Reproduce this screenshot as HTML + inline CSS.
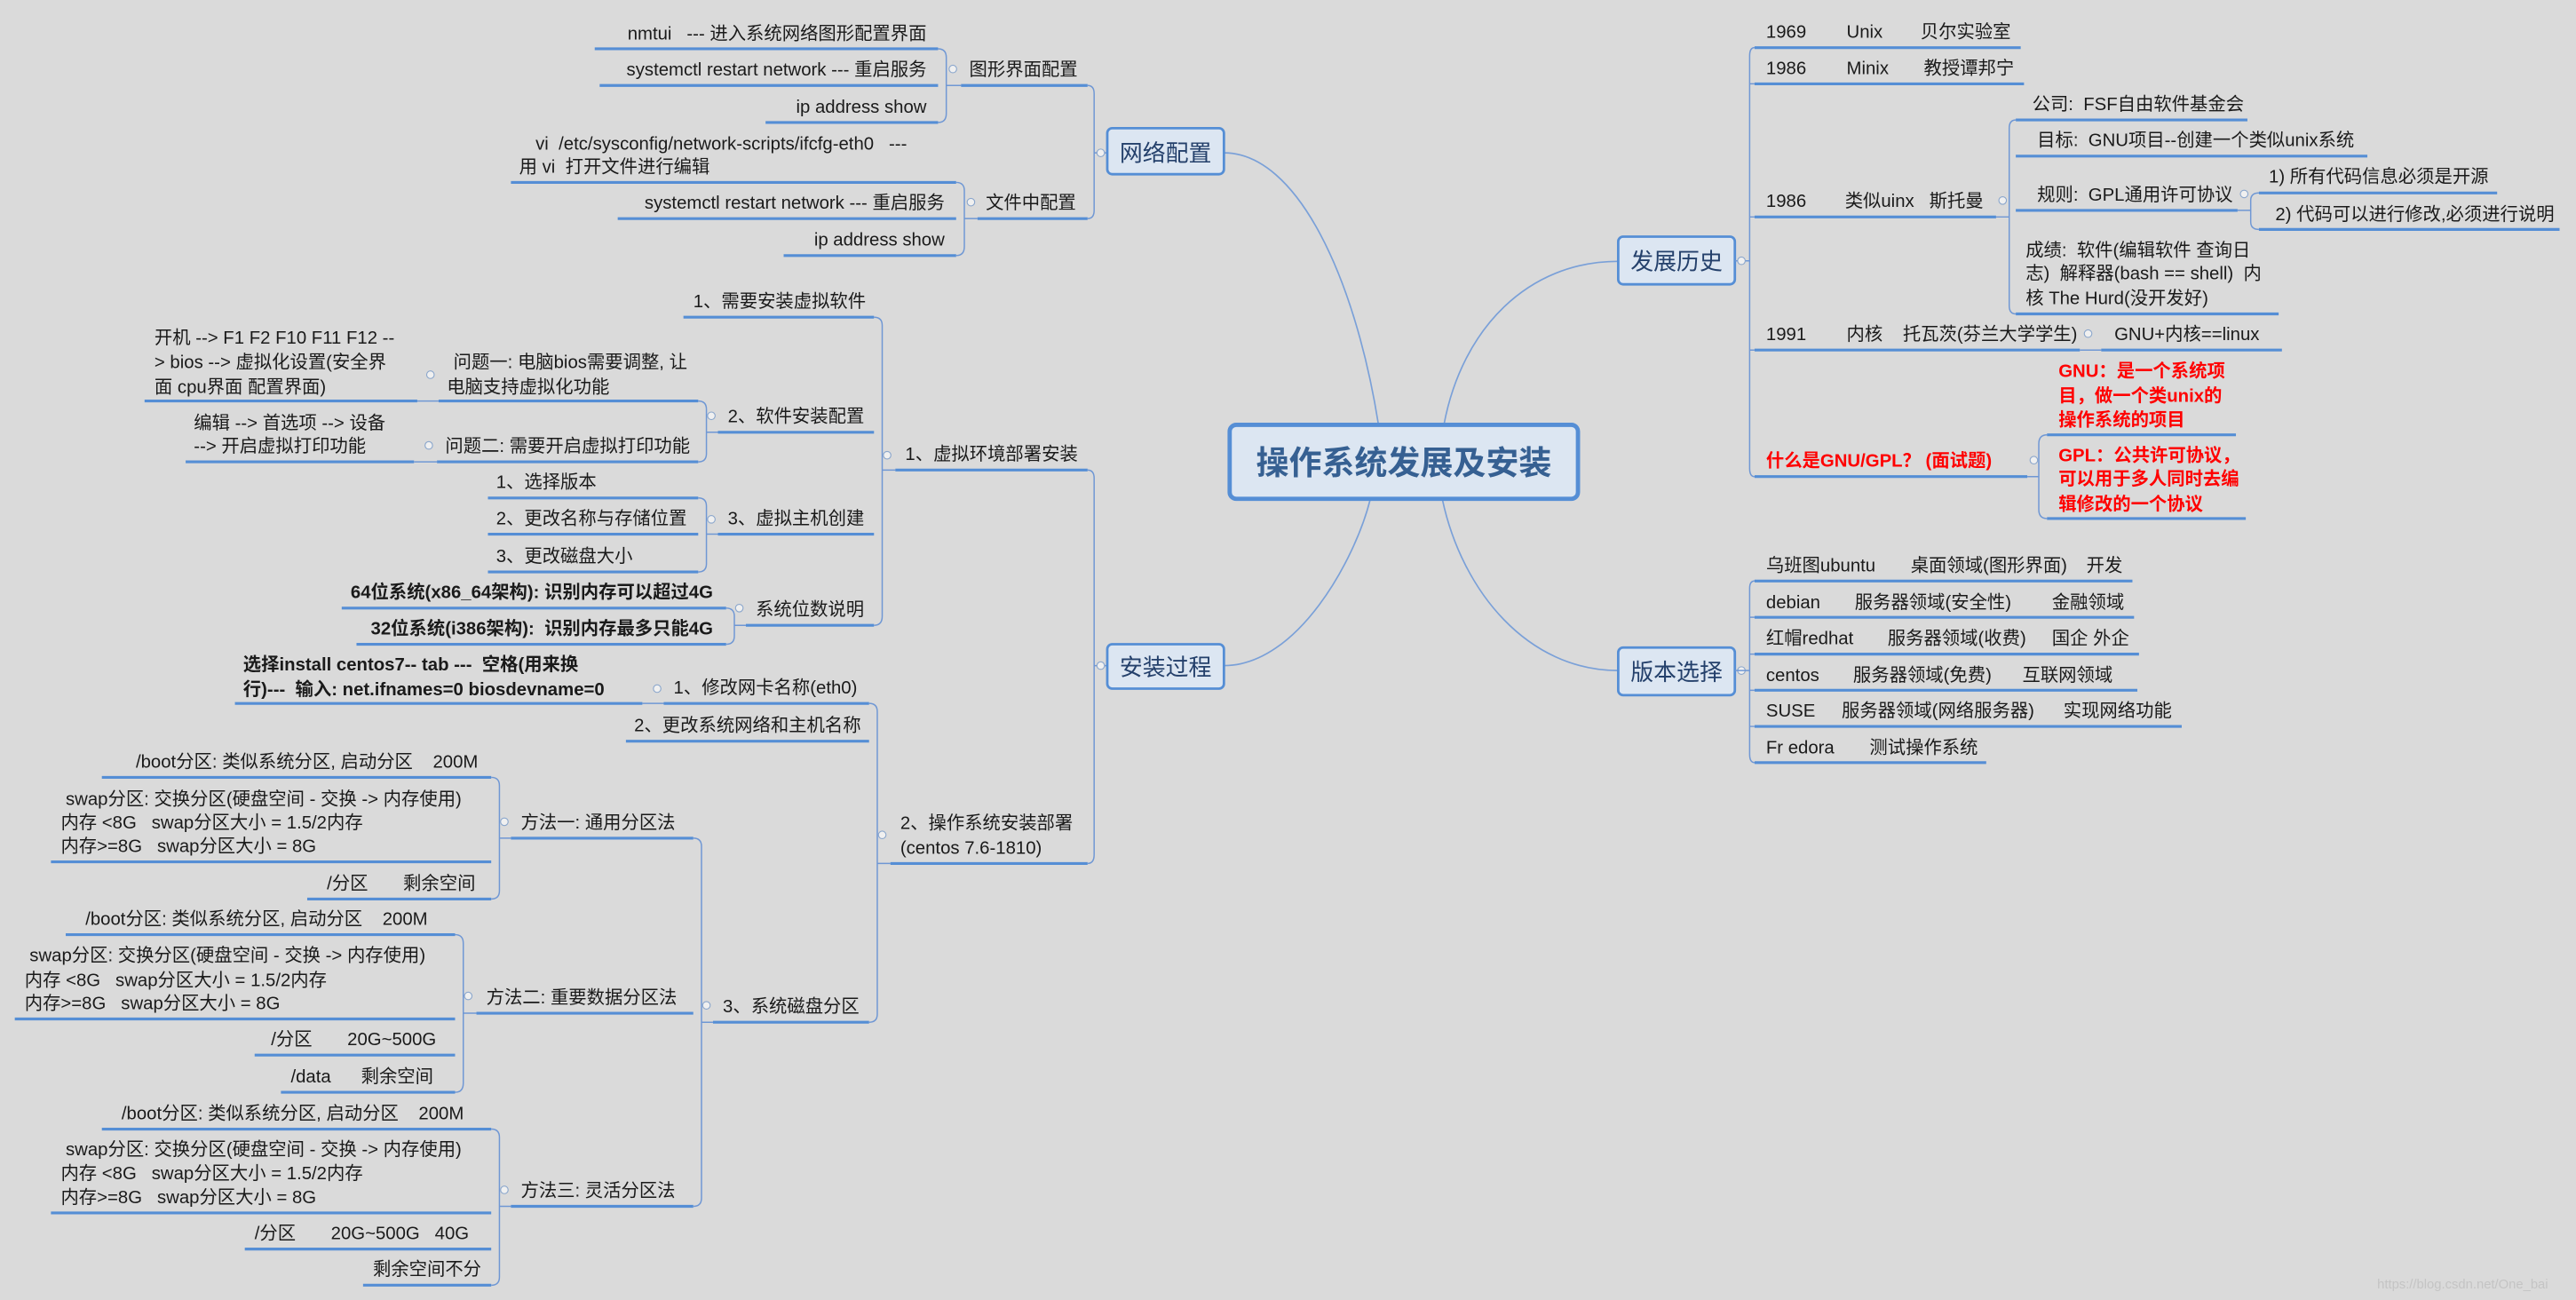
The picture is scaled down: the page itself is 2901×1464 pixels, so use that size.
<!DOCTYPE html>
<html><head><meta charset="utf-8"><style>
html,body{margin:0;padding:0;background:#dadada;width:2901px;height:1464px;overflow:hidden}
svg{display:block}
text{font-family:"Liberation Sans","Noto Sans CJK SC",sans-serif;font-size:11px;fill:#1a1a1a;white-space:pre}
.e{text-anchor:end}
.b{font-weight:bold}
.r{fill:#ff0000;font-weight:bold}
.u{stroke:#558ed5;stroke-width:1.7;fill:none}
.c{stroke:#6f97d4;stroke-width:0.8;fill:none}
.k{stroke:#7aa0d8;stroke-width:0.9;fill:none}
.o{fill:#f0f0f0;stroke:#8aa6cc;stroke-width:0.6}
.box{fill:#dce6f2;stroke:#558ed5;stroke-width:1.5}
.bt{font-size:14px;fill:#24406b;text-anchor:middle}
</style></head><body>
<svg width="2901" height="1464" viewBox="0 0 1568 791" preserveAspectRatio="none" xml:space="preserve">
<rect width="1568" height="791" fill="#dadada"/>
<path class="k" d="M745,93 C790,93 825,170 839,258"/>
<path class="k" d="M745,405 C790,405 825,340 834,304"/>
<path class="k" d="M985,159 C930,159 890,200 879,258"/>
<path class="k" d="M985,408 C930,408 890,360 878,304"/>

<text class="e" x="564" y="24">nmtui   --- 进入系统网络图形配置界面</text>
<line class="u" x1="362" y1="29.7" x2="571" y2="29.7"/>
<text class="e" x="564" y="46">systemctl restart network --- 重启服务</text>
<line class="u" x1="365" y1="52" x2="571" y2="52"/>
<text class="e" x="564" y="68.5">ip address show</text>
<line class="u" x1="466" y1="74.5" x2="571" y2="74.5"/>
<path class="c" d="M571,29.7 Q576,29.7 576,35 L576,69 Q576,74.5 571,74.5 M576,52 H585"/>
<circle class="o" cx="580" cy="42" r="2.3"/>
<text x="590" y="46">图形界面配置</text>
<line class="u" x1="585" y1="52" x2="662" y2="52"/>

<text x="326" y="91">vi  /etc/sysconfig/network-scripts/ifcfg-eth0   ---</text>
<text x="316" y="105">用 vi  打开文件进行编辑</text>
<line class="u" x1="311" y1="111" x2="582" y2="111"/>
<text class="e" x="575" y="127">systemctl restart network --- 重启服务</text>
<line class="u" x1="376" y1="133" x2="582" y2="133"/>
<text class="e" x="575" y="149.5">ip address show</text>
<line class="u" x1="477" y1="155.5" x2="582" y2="155.5"/>
<path class="c" d="M582,111 Q587,111 587,116 L587,150 Q587,155.5 582,155.5 M587,133 H595"/>
<circle class="o" cx="591" cy="123" r="2.3"/>
<text x="600" y="127">文件中配置</text>
<line class="u" x1="595" y1="133" x2="662" y2="133"/>
<path class="c" d="M662,52 Q666,52 666,57 L666,128 Q666,133 662,133 M666,93 H674"/>
<circle class="o" cx="670" cy="93" r="2.3"/>
<rect class="box" x="674" y="78" width="71" height="28" rx="3"/>
<text class="bt" x="709.5" y="98">网络配置</text>

<text x="422" y="187">1、需要安装虚拟软件</text>
<line class="u" x1="416" y1="193" x2="532" y2="193"/>
<text x="94" y="209">开机 --&gt; F1 F2 F10 F11 F12 --</text>
<text x="94" y="224">&gt; bios --&gt; 虚拟化设置(安全界</text>
<text x="94" y="239">面 cpu界面 配置界面)</text>
<line class="u" x1="88" y1="244" x2="254" y2="244"/>
<line class="c" x1="254" y1="244" x2="267" y2="244"/>
<text x="276" y="224">问题一: 电脑bios需要调整, 让</text>
<text x="272" y="239">电脑支持虚拟化功能</text>
<line class="u" x1="267" y1="244" x2="425" y2="244"/>
<circle class="o" cx="262" cy="228" r="2.3"/>
<text x="118" y="261">编辑 --&gt; 首选项 --&gt; 设备</text>
<text x="118" y="275">--&gt; 开启虚拟打印功能</text>
<line class="u" x1="113" y1="281" x2="252" y2="281"/>
<line class="c" x1="252" y1="281" x2="266" y2="281"/>
<text x="271" y="275">问题二: 需要开启虚拟打印功能</text>
<line class="u" x1="266" y1="281" x2="425" y2="281"/>
<circle class="o" cx="261" cy="271" r="2.3"/>
<path class="c" d="M425,244 Q430,244 430,249 L430,276 Q430,281 425,281 M430,263 H437"/>
<circle class="o" cx="433" cy="253" r="2.3"/>
<text x="443" y="257">2、软件安装配置</text>
<line class="u" x1="437" y1="263" x2="532" y2="263"/>

<text x="302" y="297">1、选择版本</text>
<line class="u" x1="297" y1="303" x2="425" y2="303"/>
<text x="302" y="319">2、更改名称与存储位置</text>
<line class="u" x1="297" y1="325" x2="425" y2="325"/>
<text x="302" y="342">3、更改磁盘大小</text>
<line class="u" x1="297" y1="348" x2="425" y2="348"/>
<path class="c" d="M425,303 Q430,303 430,308 L430,343 Q430,348 425,348 M430,325 H437"/>
<circle class="o" cx="433" cy="316" r="2.3"/>
<text x="443" y="319">3、虚拟主机创建</text>
<line class="u" x1="437" y1="325" x2="532" y2="325"/>

<text class="e b" x="434" y="364">64位系统(x86_64架构): 识别内存可以超过4G</text>
<line class="u" x1="208" y1="370" x2="442" y2="370"/>
<text class="e b" x="434" y="386">32位系统(i386架构):  识别内存最多只能4G</text>
<line class="u" x1="217" y1="392" x2="442" y2="392"/>
<path class="c" d="M442,370 Q447,370 447,375 L447,387 Q447,392 442,392 M447,380.5 H454"/>
<circle class="o" cx="450" cy="370" r="2.3"/>
<text x="460" y="374.5">系统位数说明</text>
<line class="u" x1="454" y1="380.5" x2="532" y2="380.5"/>
<path class="c" d="M532,193 Q537,193 537,198 L537,375 Q537,380.5 532,380.5 M537,286 H545"/>
<circle class="o" cx="540" cy="277" r="2.3"/>
<text x="551" y="280">1、虚拟环境部署安装</text>
<line class="u" x1="545" y1="286" x2="662" y2="286"/>

<text class="b" x="148" y="408">选择install centos7-- tab ---  空格(用来换</text>
<text class="b" x="148" y="423">行)---  输入: net.ifnames=0 biosdevname=0</text>
<line class="u" x1="143" y1="428" x2="391" y2="428"/>
<line class="c" x1="391" y1="428" x2="404" y2="428"/>
<circle class="o" cx="400" cy="419" r="2.3"/>
<text x="410" y="422">1、修改网卡名称(eth0)</text>
<line class="u" x1="404" y1="428" x2="529" y2="428"/>
<text x="386" y="445">2、更改系统网络和主机名称</text>
<line class="u" x1="381" y1="451" x2="529" y2="451"/>

<text class="e" x="291" y="467">/boot分区: 类似系统分区, 启动分区    200M</text>
<line class="u" x1="62" y1="473" x2="299" y2="473"/>
<text x="40" y="489.7">swap分区: 交换分区(硬盘空间 - 交换 -&gt; 内存使用)</text>
<text x="37" y="504">内存 &lt;8G   swap分区大小 = 1.5/2内存</text>
<text x="37" y="518.3">内存&gt;=8G   swap分区大小 = 8G</text>
<line class="u" x1="31" y1="524.4" x2="299" y2="524.4"/>
<text x="199" y="541">/分区       剩余空间</text>
<line class="u" x1="187" y1="547" x2="299" y2="547"/>
<path class="c" d="M299,473 Q304,473 304,478 L304,542 Q304,547 299,547 M304,510 H311"/>
<circle class="o" cx="307" cy="500" r="2.3"/>
<text x="317" y="504">方法一: 通用分区法</text>
<line class="u" x1="311" y1="510" x2="422" y2="510"/>

<text x="52" y="562.7">/boot分区: 类似系统分区, 启动分区    200M</text>
<line class="u" x1="40" y1="568.7" x2="277" y2="568.7"/>
<text x="18" y="585">swap分区: 交换分区(硬盘空间 - 交换 -&gt; 内存使用)</text>
<text x="15" y="600">内存 &lt;8G   swap分区大小 = 1.5/2内存</text>
<text x="15" y="614">内存&gt;=8G   swap分区大小 = 8G</text>
<line class="u" x1="9" y1="620" x2="277" y2="620"/>
<text x="165" y="636">/分区       20G~500G</text>
<line class="u" x1="155" y1="642" x2="277" y2="642"/>
<text x="177" y="658.6">/data      剩余空间</text>
<line class="u" x1="171" y1="664.6" x2="277" y2="664.6"/>
<path class="c" d="M277,568.7 Q282,568.7 282,574 L282,659 Q282,664.6 277,664.6 M282,616.5 H290"/>
<circle class="o" cx="285" cy="606" r="2.3"/>
<text x="296" y="610.5">方法二: 重要数据分区法</text>
<line class="u" x1="290" y1="616.5" x2="422" y2="616.5"/>

<text x="74" y="681">/boot分区: 类似系统分区, 启动分区    200M</text>
<line class="u" x1="62" y1="687" x2="299" y2="687"/>
<text x="40" y="703">swap分区: 交换分区(硬盘空间 - 交换 -&gt; 内存使用)</text>
<text x="37" y="717.4">内存 &lt;8G   swap分区大小 = 1.5/2内存</text>
<text x="37" y="732">内存&gt;=8G   swap分区大小 = 8G</text>
<line class="u" x1="31" y1="738" x2="299" y2="738"/>
<text x="155" y="754">/分区       20G~500G   40G</text>
<line class="u" x1="149" y1="760" x2="299" y2="760"/>
<text x="227" y="776">剩余空间不分</text>
<line class="u" x1="221" y1="782" x2="299" y2="782"/>
<path class="c" d="M299,687 Q304,687 304,692 L304,777 Q304,782 299,782 M304,734 H311"/>
<circle class="o" cx="307" cy="724" r="2.3"/>
<text x="317" y="728">方法三: 灵活分区法</text>
<line class="u" x1="311" y1="734" x2="422" y2="734"/>
<path class="c" d="M422,510 Q427,510 427,515 L427,729 Q427,734 422,734 M427,622 H434"/>
<circle class="o" cx="430" cy="611.7" r="2.3"/>
<text x="440" y="616">3、系统磁盘分区</text>
<line class="u" x1="434" y1="622" x2="529" y2="622"/>
<path class="c" d="M529,428 Q534,428 534,433 L534,617 Q534,622 529,622 M534,525.4 H542"/>
<circle class="o" cx="537" cy="508" r="2.3"/>
<text x="548" y="504.4">2、操作系统安装部署</text>
<text x="548" y="519.5">(centos 7.6-1810)</text>
<line class="u" x1="542" y1="525.4" x2="662" y2="525.4"/>
<path class="c" d="M662,286 Q666,286 666,291 L666,520 Q666,525.4 662,525.4 M666,405 H674"/>
<circle class="o" cx="670" cy="405" r="2.3"/>
<rect class="box" x="674" y="392" width="71" height="27" rx="3"/>
<text class="bt" x="709.5" y="411">安装过程</text>

<rect x="748.5" y="258.5" width="212" height="45" rx="4" fill="#dce6f2" stroke="#558ed5" stroke-width="2.6"/>
<text x="854.5" y="288.5" style="font-size:20px;font-weight:bold;fill:#366092;text-anchor:middle">操作系统发展及安装</text>

<rect class="box" x="985" y="144" width="71" height="29" rx="3"/>
<text class="bt" x="1020.5" y="164">发展历史</text>
<path class="c" d="M1056,158.7 H1065 M1068,29 Q1065,29 1065,34 L1065,285 Q1065,290 1068,290"/>
<circle class="o" cx="1060" cy="158.7" r="2.3"/>
<path class="c" d="M1065,51 H1068 M1065,132 H1068 M1065,213 H1068"/>

<text x="1075" y="23">1969</text><text x="1124" y="23">Unix</text><text x="1169" y="23">贝尔实验室</text>
<line class="u" x1="1068" y1="29" x2="1230" y2="29"/>
<text x="1075" y="45">1986</text><text x="1124" y="45">Minix</text><text x="1171" y="45">教授谭邦宁</text>
<line class="u" x1="1068" y1="51" x2="1232" y2="51"/>
<text x="1075" y="126">1986</text><text x="1123" y="126">类似uinx   斯托曼</text>
<line class="u" x1="1068" y1="132" x2="1215" y2="132"/>
<circle class="o" cx="1219" cy="122" r="2.3"/>
<path class="c" d="M1215,132 H1223 M1227,73 Q1223,73 1223,78 L1223,186 Q1223,191 1227,191"/>
<text x="1237" y="67">公司:  FSF自由软件基金会</text>
<line class="u" x1="1227" y1="73" x2="1368" y2="73"/>
<text x="1240" y="89">目标:  GNU项目--创建一个类似unix系统</text>
<line class="u" x1="1227" y1="95" x2="1441" y2="95"/>
<text x="1240" y="122">规则:  GPL通用许可协议</text>
<line class="u" x1="1227" y1="128" x2="1362" y2="128"/>
<circle class="o" cx="1366" cy="118" r="2.3"/>
<path class="c" d="M1362,128 H1370 M1375,117.4 Q1370,117.4 1370,122 L1370,135 Q1370,139.6 1375,139.6"/>
<text x="1381" y="111">1) 所有代码信息必须是开源</text>
<line class="u" x1="1375" y1="117.4" x2="1520" y2="117.4"/>
<text x="1385" y="134">2) 代码可以进行修改,必须进行说明</text>
<line class="u" x1="1375" y1="139.6" x2="1558" y2="139.6"/>
<text x="1233" y="156">成绩:  软件(编辑软件 查询日</text>
<text x="1233" y="170">志)  解释器(bash == shell)  内</text>
<text x="1233" y="185">核 The Hurd(没开发好)</text>
<line class="u" x1="1227" y1="191" x2="1387" y2="191"/>
<text x="1075" y="207">1991</text><text x="1124" y="207">内核    托瓦茨(芬兰大学学生)</text>
<line class="u" x1="1068" y1="213" x2="1266" y2="213"/>
<circle class="o" cx="1271" cy="203" r="2.3"/>
<line class="c" x1="1266" y1="213" x2="1279" y2="213"/>
<text x="1287" y="207">GNU+内核==linux</text>
<line class="u" x1="1279" y1="213" x2="1389" y2="213"/>
<text class="r" x="1075" y="284">什么是GNU/GPL？ (面试题)</text>
<line class="u" x1="1068" y1="290" x2="1234" y2="290"/>
<circle class="o" cx="1238" cy="280" r="2.3"/>
<path class="c" d="M1234,290 H1241 M1246,264.6 Q1241,264.6 1241,270 L1241,310 Q1241,315.5 1246,315.5"/>
<text class="r" x="1253" y="229.4">GNU：是一个系统项</text>
<text class="r" x="1253" y="244.6">目，做一个类unix的</text>
<text class="r" x="1253" y="259">操作系统的项目</text>
<line class="u" x1="1246" y1="264.6" x2="1361" y2="264.6"/>
<text class="r" x="1253" y="280.7">GPL：公共许可协议，</text>
<text class="r" x="1253" y="295">可以用于多人同时去编</text>
<text class="r" x="1253" y="310.4">辑修改的一个协议</text>
<line class="u" x1="1246" y1="315.5" x2="1367" y2="315.5"/>

<rect class="box" x="985" y="394" width="71" height="29" rx="3"/>
<text class="bt" x="1020.5" y="414">版本选择</text>
<circle class="o" cx="1060" cy="408" r="2.3"/>
<path class="c" d="M1056,408 H1065 M1068,353.5 Q1065,353.5 1065,358 L1065,459 Q1065,464 1068,464 M1065,375.6 H1068 M1065,398 H1068 M1065,420 H1068 M1065,442 H1068"/>
<text x="1075" y="347.8">乌班图ubuntu</text><text x="1163" y="347.8">桌面领域(图形界面)</text><text x="1270" y="347.8">开发</text>
<line class="u" x1="1068" y1="353.5" x2="1298" y2="353.5"/>
<text x="1075" y="370">debian</text><text x="1129" y="370">服务器领域(安全性)</text><text x="1249" y="370">金融领域</text>
<line class="u" x1="1068" y1="375.6" x2="1299" y2="375.6"/>
<text x="1075" y="392">红帽redhat</text><text x="1149" y="392">服务器领域(收费)</text><text x="1249" y="392">国企 外企</text>
<line class="u" x1="1068" y1="398" x2="1302" y2="398"/>
<text x="1075" y="414.5">centos</text><text x="1128" y="414.5">服务器领域(免费)</text><text x="1231" y="414.5">互联网领域</text>
<line class="u" x1="1068" y1="420" x2="1301" y2="420"/>
<text x="1075" y="436">SUSE</text><text x="1121" y="436">服务器领域(网络服务器)</text><text x="1256" y="436">实现网络功能</text>
<line class="u" x1="1068" y1="442" x2="1328" y2="442"/>
<text x="1075" y="458.5">Fr edora</text><text x="1138" y="458.5">测试操作系统</text>
<line class="u" x1="1068" y1="464" x2="1209" y2="464"/>

<text x="1447" y="784" style="font-size:8px;fill:#c4c4c4">https://blog.csdn.net/One_bai</text>
</svg>
</body></html>
